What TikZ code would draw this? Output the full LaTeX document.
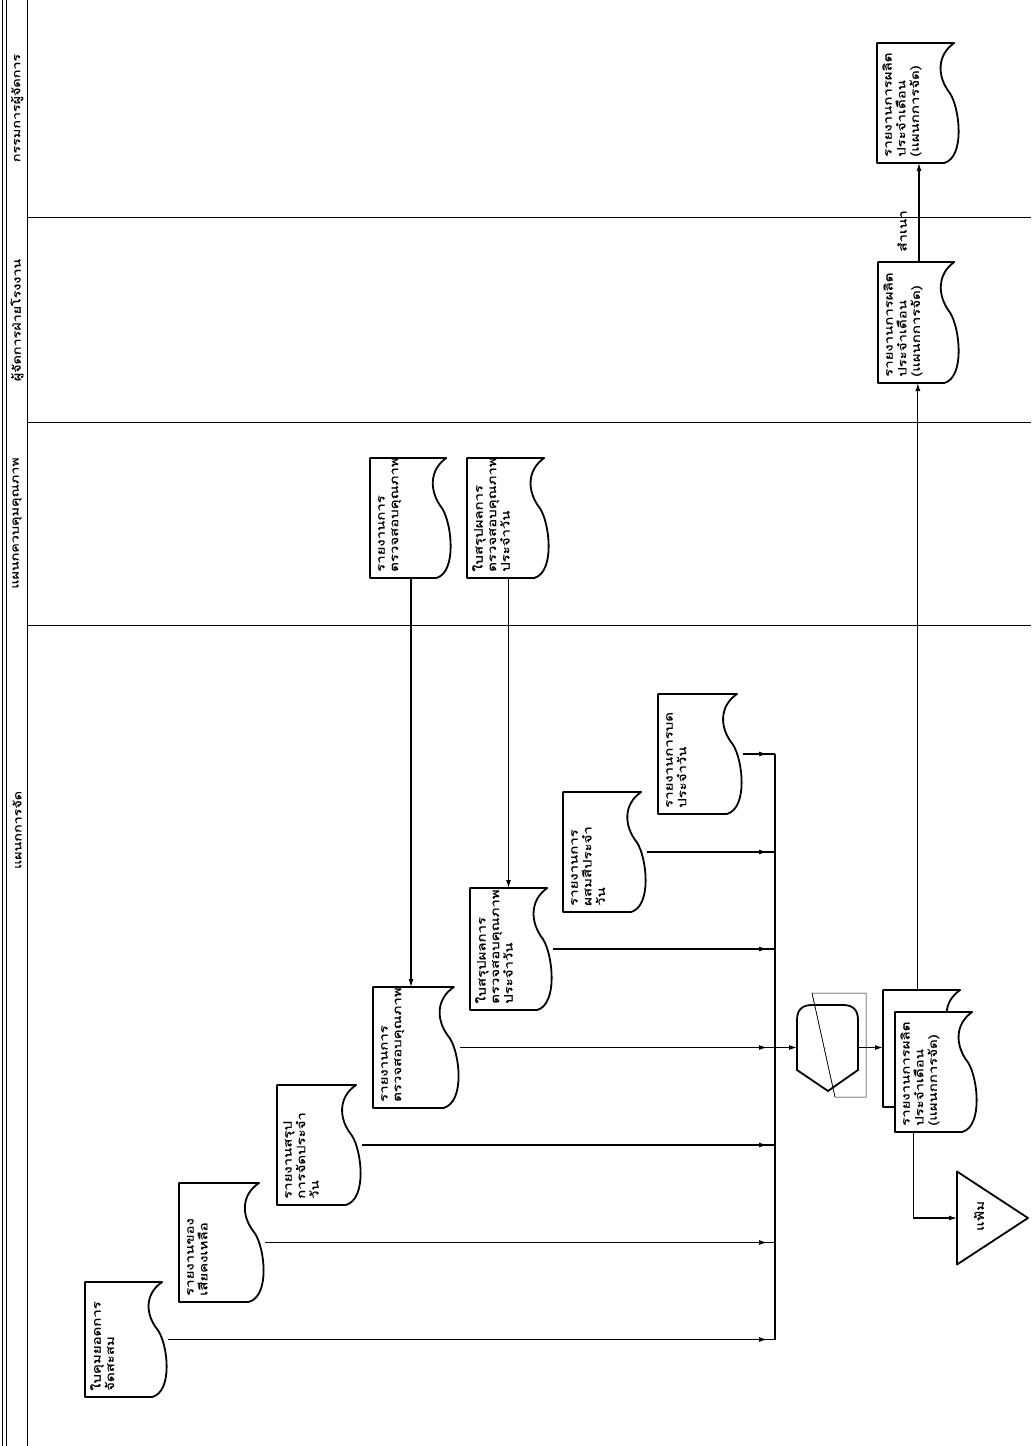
\documentclass[tikz,border=0pt]{standalone}
\usepackage{fontspec}
\usepackage{graphicx}
\usetikzlibrary{arrows.meta,calc,decorations.markings}
\newfontfamily\thaifont[Script=Thai,FakeStretch=1.3,FakeBold=0.6]{Loma}
\tikzset{
  docbox/.style={draw=none, inner sep=0pt, outer sep=0pt},
  docline/.style={draw=black, line width=1.8pt, fill=white, line join=round},
  doctext/.style={inner sep=0pt, font=\thaifont\fontsize{11.5}{13.5}\selectfont},
  conn/.style={draw=black, line width=1.1pt},
  arr/.style={-{Latex[length=8pt,width=5pt]}},
  arrowbefore/.style={postaction={decorate}, decoration={markings, mark=at position -8pt with {\arrow{Latex[length=8pt,width=5pt]}}}},
  lane/.style={draw=black, line width=1pt},
  hdr/.style={rotate=90, inner sep=0pt, font=\thaifont\fontsize{11}{13}\selectfont},
  thinline/.style={draw=black, line width=0.5pt},
  lbl/.style={rotate=90, inner sep=0pt, font=\thaifont\fontsize{11.5}{13.5}\selectfont},
}
% name, x0, y0, w, h, text  (image coordinates, y downward)
\newcommand\docu[6]{%
  \node[docbox, minimum width=#4, minimum height=#5, anchor=north west] (#1) at (#2,#3) {};
  \draw[docline] (#2,#3) -- ({#2+0.93*#4},#3)
    .. controls ({#2+0.72*#4},{#3+0.1*#5}) and ({#2+0.72*#4},{#3+0.28*#5}) .. ({#2+0.88*#4},{#3+0.42*#5})
    .. controls ({#2+1.0*#4},{#3+0.55*#5}) and ({#2+1.06*#4},{#3+0.95*#5}) .. ({#2+0.81*#4},{#3+#5})
    -- (#2,{#3+#5}) -- cycle;
  \node[doctext, anchor=south west] (#1t) at ({#2+5},{#3+#5-6}) {\rotatebox{90}{\begin{tabular}{@{}l@{}}#6\end{tabular}}};
}
\begin{document}
\begin{tikzpicture}[x=1pt,y=-1pt]
\useasboundingbox (0,0) rectangle (1031,1446);
\fill[white] (0,0) rectangle (1031,1446);

% frame and lanes
\draw[lane] (2.5,0) -- (2.5,1446);
\draw[lane] (6.5,0) -- (6.5,1446);
\draw[lane] (27,0) -- (27,1446);
\draw[lane] (27,217) -- (1031,217);
\draw[lane] (27,422) -- (1031,422);
\draw[lane] (27,625) -- (1031,625);

\node[hdr] (h1) at (17,108) {กรรมการผู้จัดการ};
\node[hdr] (h2) at (17,320) {ผู้จัดการฝ่ายโรงงาน};
\node[hdr] (h3) at (17,523) {แผนกควบคุมคุณภาพ};
\node[hdr] (h4) at (17,830) {แผนกการจัด};

% documents
\docu{d1}{85}{1282}{83}{115}{ใบคุมยอดการ\\จัดสะสม}
\docu{d2}{179}{1183}{86}{119}{รายงานของ\\เสียคงเหลือ}
\docu{d3}{277}{1085}{85}{120}{รายงานสรุป\\การจัดประจำ\\วัน}
\docu{d4}{373}{987}{87}{121}{รายงานการ\\ตรวจสอบคุณภาพ}
\docu{d5}{470}{888}{83}{122}{ใบสรุปผลการ\\ตรวจสอบคุณภาพ\\ประจำวัน}
\docu{d6}{563}{792}{84}{120}{รายงานการ\\ผสมสีประจำ\\วัน}
\docu{d7}{658}{694}{85}{120}{รายงานการบด\\ประจำวัน}
\docu{q1}{370}{458}{82}{120}{รายงานการ\\ตรวจสอบคุณภาพ}
\docu{q2}{467}{458}{83}{120}{ใบสรุปผลการ\\ตรวจสอบคุณภาพ\\ประจำวัน}
\docu{fm}{878}{262}{82}{121}{รายงานการผลิต\\ประจำเดือน\\(แผนกการจัด)}
\docu{md}{877}{43}{83}{120}{รายงานการผลิต\\ประจำเดือน\\(แผนกการจัด)}
\docu{bk}{883}{990}{83}{117}{}
\docu{fr}{895}{1012}{83}{120}{รายงานการผลิต\\ประจำเดือน\\(แผนกการจัด)}

% processing shape
\node[docbox, minimum width=61, minimum height=85] (sh) at (827.5,1047.5) {};
\draw[thinline] (812,993) -- (866,993) -- (866,1097) -- (835,1097) -- cycle;
\draw[docline, fill=none] (797,1070) -- (797,1020) .. controls (797,1009) and (803,1005) .. (812,1005)
  -- (843,1005) .. controls (852,1005) and (858,1009) .. (858,1020) -- (858,1070) -- (828,1091) -- cycle;
\draw[thinline] (835,1097) -- (812,993);

% file triangle
\node[docbox, minimum width=71, minimum height=93, anchor=west] (fl) at (957,1218) {};
\draw[docline] (fl.north west) -- (fl.east) -- (fl.south west) -- cycle;
\node[lbl] (flt) at (979,1216) {แฟ้ม};

% collector
\path (775,0) coordinate (cx);
\draw[conn] (d7.east -| cx) -- (d1.east -| cx);
\foreach \d in {d1,d2,d3,d4,d5,d6,d7}{
  \draw[conn, arrowbefore] (\d.east) -- (\d.east -| cx);
}
\draw[conn, arr] (d4.east -| cx) -- (sh.west);
\draw[conn, arr] (sh.east) -- (sh.east -| bk.west);

% quality control to documents
\draw[conn, arr] (q1.south) -- (q1.south |- d4.north);
\draw[conn, arr] (q2.south) -- (q2.south |- d5.north);

% stack outputs
\coordinate (fo) at ($(fr.south west)!0.22!(fr.south east)$);
\draw[conn, arr] (fo) |- (fl.west);
\coordinate (up) at ($(bk.north west)!0.42!(bk.north east)$);
\draw[conn, arr] (up) -- (up |- fm.south);
\draw[conn, arr] (fm.north) -- (fm.north |- md.south);
\node[lbl] (cp) at (902,231) {สำเนา};
\end{tikzpicture}
\end{document}
